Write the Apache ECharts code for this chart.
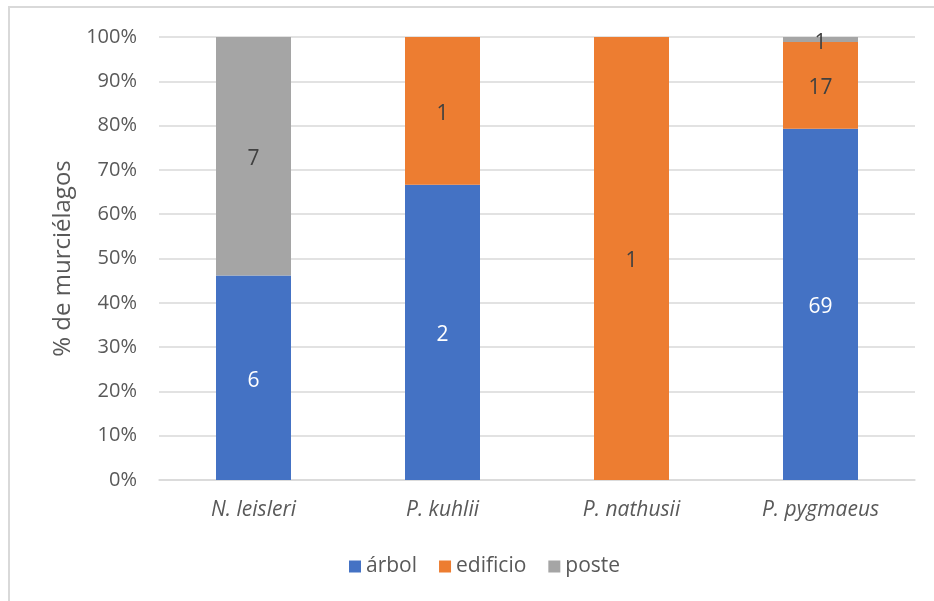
<!DOCTYPE html>
<html>
<head>
<meta charset="utf-8">
<script src="https://cdn.jsdelivr.net/npm/echarts@6/dist/echarts.min.js"></script>
<style>
html,body{margin:0;padding:0;background:#fff;}
#chart{width:934px;height:601px;}
</style>
</head>
<body>
<div id="chart"></div>
<script>
var categories = ['N. leisleri', 'P. kuhlii', 'P. nathusii', 'P. pygmaeus'];
var seriesNames = ['árbol', 'edificio', 'poste'];
var arbolCounts = [6, 2, 0, 69];
var edificioCounts = [0, 1, 1, 17];
var posteCounts = [7, 0, 0, 1];
var yTickLabels = ['0%','10%','20%','30%','40%','50%','60%','70%','80%','90%','100%'];

var colors = ['#4472C4', '#ED7D31', '#A5A5A5'];
var allCounts = [arbolCounts, edificioCounts, posteCounts];
var totals = categories.map(function(_, i){
  return arbolCounts[i] + edificioCounts[i] + posteCounts[i];
});

var FONT = 'Open Sans';
var chart = echarts.init(document.getElementById('chart'));

var series = seriesNames.map(function(name, s){
  var counts = allCounts[s];
  return {
    name: name,
    type: 'bar',
    stack: 'total',
    barWidth: 75,
    itemStyle: { color: colors[s] },
    label: {
      show: true,
      position: 'inside',
      offset: [0, 3],
      fontFamily: FONT,
      fontSize: 21,
      color: s === 0 ? '#ffffff' : '#404040',
      formatter: function(p){ var c = counts[p.dataIndex]; return c > 0 ? String(c) : ''; }
    },
    emphasis: { disabled: true },
    data: counts.map(function(c, i){ return totals[i] ? c / totals[i] * 100 : 0; })
  };
});

chart.setOption({
  animation: false,
  backgroundColor: '#ffffff',
  textStyle: { fontFamily: FONT },
  grid: { left: 159, right: 19, top: 37, bottom: 121, containLabel: false },
  legend: {
    data: seriesNames,
    bottom: 19,
    left: 344,
    icon: 'rect',
    itemWidth: 12,
    itemHeight: 12,
    itemGap: 22,
    itemStyle: { borderWidth: 0 },
    textStyle: { fontFamily: FONT, fontSize: 21, color: '#595959' }
  },
  xAxis: {
    type: 'category',
    data: categories,
    axisLine: { show: true, lineStyle: { color: '#d9d9d9', width: 1.5 } },
    axisTick: { show: false },
    axisLabel: { fontFamily: FONT, fontSize: 21, fontStyle: 'italic', color: '#595959', margin: 20 }
  },
  yAxis: {
    type: 'value',
    min: 0,
    max: 100,
    interval: 10,
    name: '% de murciélagos',
    nameLocation: 'middle',
    nameGap: 84,
    nameRotate: 90,
    nameTextStyle: { fontFamily: FONT, fontSize: 24, color: '#595959' },
    axisLine: { show: false },
    axisTick: { show: false },
    splitLine: { lineStyle: { color: '#d9d9d9', width: 1.5 } },
    axisLabel: {
      fontFamily: FONT, fontSize: 20, color: '#595959', margin: 22,
      formatter: function(v){ return yTickLabels[Math.round(v / 10)]; }
    }
  },
  graphic: [
    { type: 'line', shape: { x1: 9, y1: 7, x2: 9, y2: 601 }, style: { stroke: '#d9d9d9', lineWidth: 2 } },
    { type: 'line', shape: { x1: 8, y1: 7, x2: 934, y2: 7 }, style: { stroke: '#d9d9d9', lineWidth: 2 } }
  ],
  series: series
});
</script>
</body>
</html>
